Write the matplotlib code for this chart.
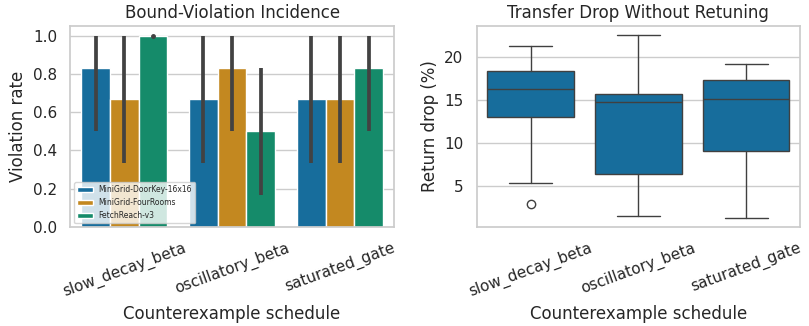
import numpy as np
import matplotlib
matplotlib.use("Agg")
import matplotlib.pyplot as plt
import seaborn as sns

sns.set_theme(style="whitegrid", palette="colorblind")

schedules = ["slow_decay_beta", "oscillatory_beta", "saturated_gate"]
envs = ["MiniGrid-DoorKey-16x16", "MiniGrid-FourRooms", "FetchReach-v3"]

# violation rate per (env, schedule), with CI bounds
rate = [[0.833, 0.667, 0.667],
        [0.667, 0.833, 0.667],
        [1.000, 0.500, 0.833]]
ci_lo = [[0.500, 0.333, 0.333],
         [0.333, 0.500, 0.333],
         [1.000, 0.167, 0.500]]
ci_hi = [[1.000, 1.000, 1.000],
         [1.000, 1.000, 1.000],
         [1.000, 0.833, 1.000]]

# return drop box stats per schedule
whislo = [5.3, 1.5, 1.3]
q1 = [13.0, 6.4, 9.0]
med = [16.3, 14.8, 15.1]
q3 = [18.3, 15.7, 17.3]
whishi = [21.3, 22.5, 19.2]
fliers = [[2.9], [], []]

pal = sns.color_palette("colorblind")
cols = [sns.desaturate(c, 0.75) for c in pal[:3]]

fig, (ax1, ax2) = plt.subplots(1, 2, figsize=(8.09, 3.26), dpi=100)
fig.subplots_adjust(left=0.087, right=0.989, top=0.92, bottom=0.304, wspace=0.256)

x = np.arange(len(schedules))
w = 0.8 / 3
for i, env in enumerate(envs):
    xs = x - 0.4 + w * (i + 0.5)
    ax1.bar(xs, rate[i], width=w, color=cols[i], edgecolor="white",
            linewidth=1, label=env)
    ax1.vlines(xs, ci_lo[i], ci_hi[i], color=".26", linewidth=2.7)
    for xx, lo, hi in zip(xs, ci_lo[i], ci_hi[i]):
        if lo == hi:
            ax1.plot([xx], [hi], "o", color=".26", ms=2.5)
ax1.set_xticks(x)
ax1.set_xticklabels(schedules, rotation=20)
ax1.set_xlim(-0.5, 2.5)
ax1.set_yticks(np.arange(0, 1.01, 0.2))
ax1.set_ylabel("Violation rate")
ax1.set_xlabel("Counterexample schedule")
ax1.set_title("Bound-Violation Incidence")
ax1.legend(loc="lower left", fontsize=5.5, framealpha=0.8)
ax1.grid(axis="x", visible=False)

stats = []
for k in range(len(schedules)):
    stats.append(dict(whislo=whislo[k], q1=q1[k], med=med[k], q3=q3[k],
                      whishi=whishi[k], fliers=fliers[k]))
line_c = ".25"
ax2.bxp(stats, positions=x, widths=0.8, patch_artist=True,
        boxprops=dict(facecolor=cols[0], edgecolor=line_c, linewidth=1),
        medianprops=dict(color=line_c, linewidth=1),
        whiskerprops=dict(color=line_c, linewidth=1),
        capprops=dict(color=line_c, linewidth=1),
        flierprops=dict(marker="o", markerfacecolor="none",
                        markeredgecolor=line_c, markersize=6))
ax2.set_xticks(x)
ax2.set_xticklabels(schedules, rotation=20)
ax2.set_xlim(-0.5, 2.5)
ax2.set_ylabel("Return drop (%)")
ax2.set_xlabel("Counterexample schedule")
ax2.set_title("Transfer Drop Without Retuning")
ax2.grid(axis="x", visible=False)

fig.savefig("out.png")
